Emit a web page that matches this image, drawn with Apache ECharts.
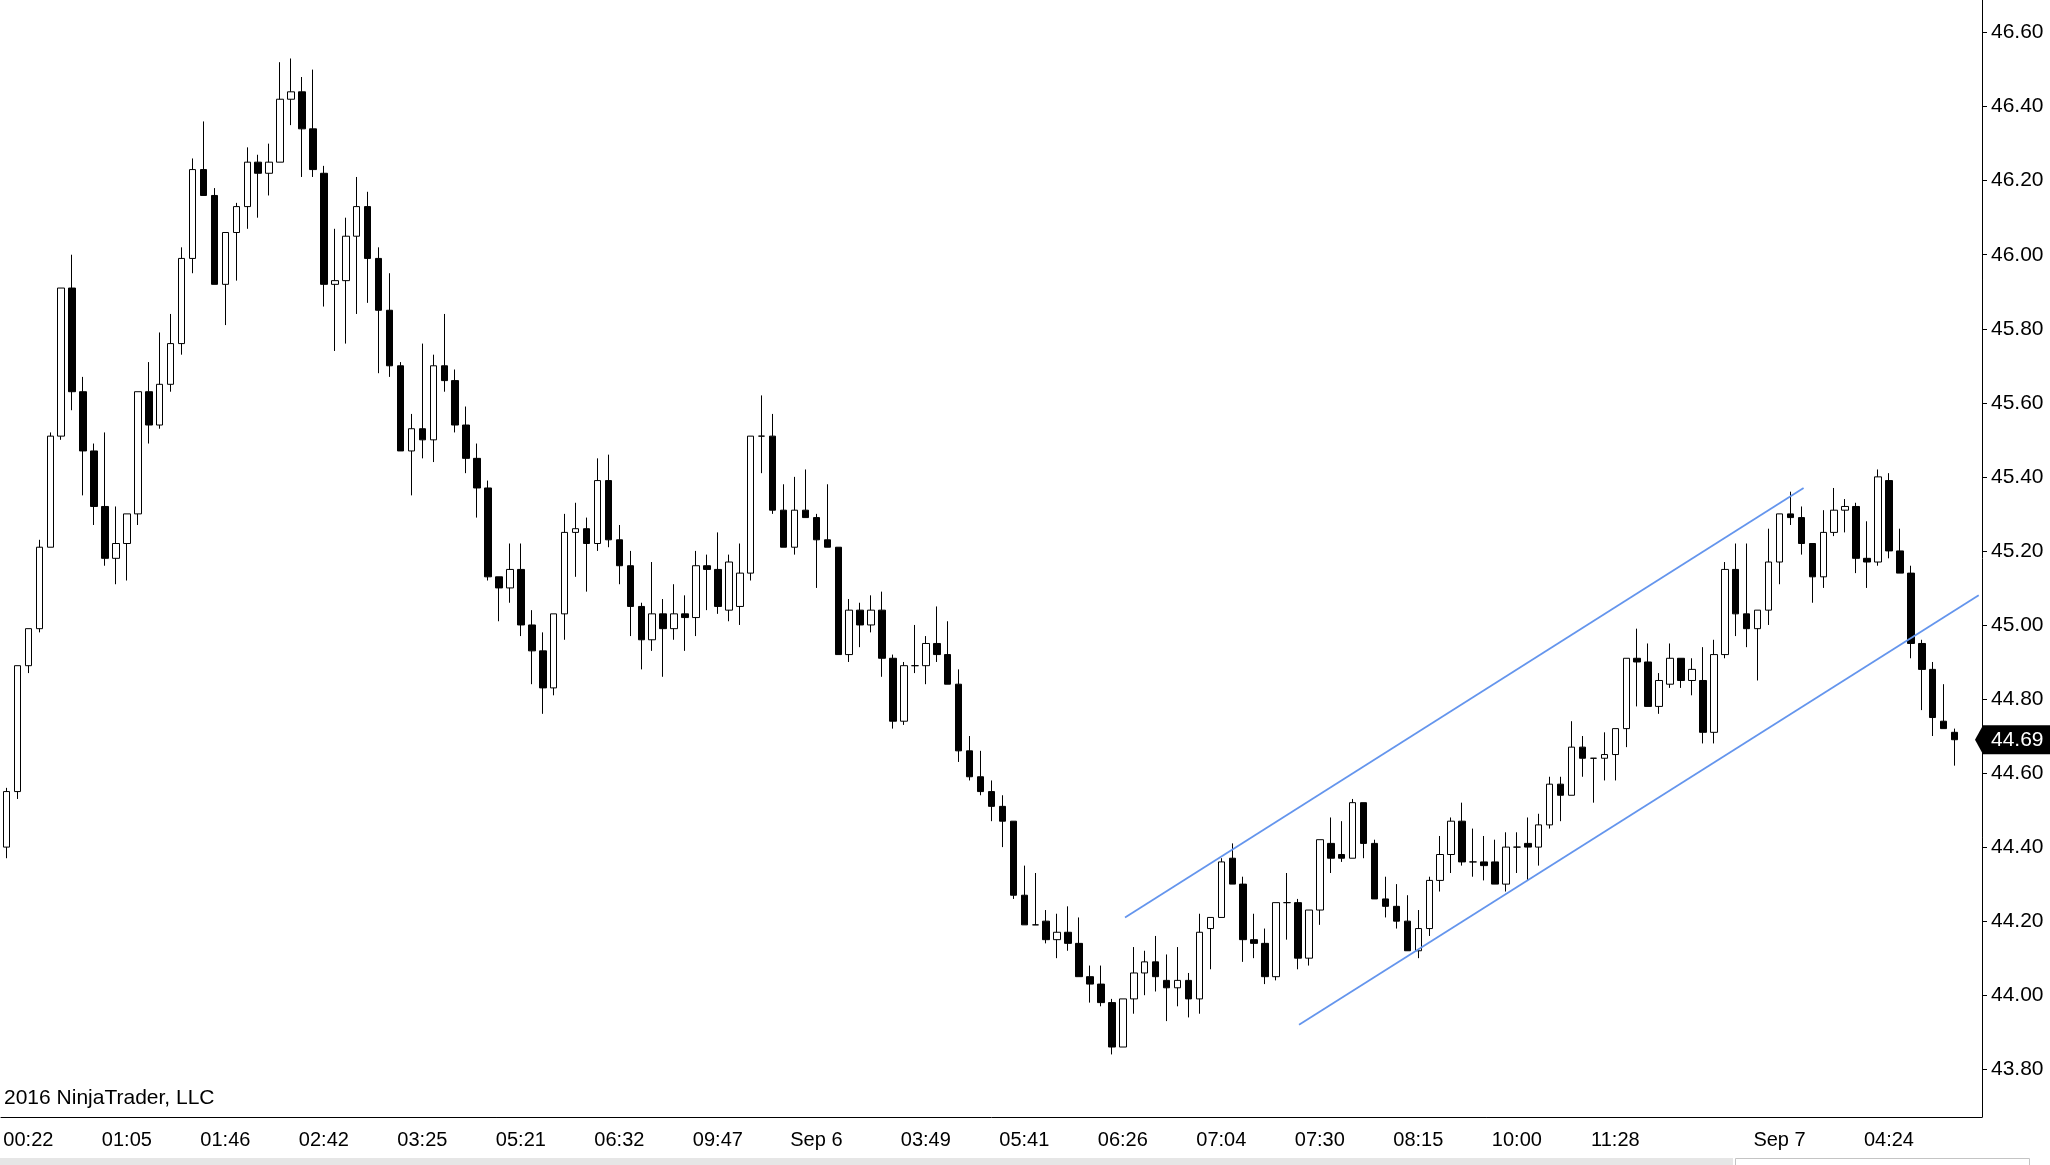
<!DOCTYPE html>
<html>
<head>
<meta charset="utf-8">
<title>NinjaTrader candles</title>
<script src="https://cdn.jsdelivr.net/npm/echarts@6/dist/echarts.min.js"></script>
<style>
    html, body { margin: 0; padding: 0; background: #fff; }
    #main { width: 2050px; height: 1165px; }
</style>
</head>
<body>
<div id="main"></div>
<script>
'use strict';

// bar values (oldest first)
var opens = [
    44.40, 44.55, 44.89, 44.99, 45.21, 45.51, 45.91, 45.63, 45.47, 45.32,
    45.18, 45.22, 45.30, 45.63, 45.54, 45.65, 45.76, 45.99, 46.23, 46.16,
    45.92, 46.06, 46.13, 46.25, 46.22, 46.25, 46.42, 46.44, 46.34, 46.22,
    45.92, 45.93, 46.05, 46.13, 45.99, 45.85, 45.70, 45.47, 45.53, 45.50,
    45.70, 45.66, 45.54, 45.45, 45.37, 45.13, 45.10, 45.15, 45.00, 44.93,
    44.83, 45.03, 45.25, 45.26, 45.22, 45.39, 45.23, 45.16, 45.05, 44.96,
    45.03, 44.99, 45.03, 45.02, 45.16, 45.15, 45.04, 45.05, 45.14, 45.51,
    45.51, 45.31, 45.21, 45.31, 45.29, 45.23, 45.21, 44.92, 45.04, 45.00,
    45.04, 44.91, 44.74, 44.89, 44.89, 44.95, 44.92, 44.84, 44.66, 44.59,
    44.55, 44.51, 44.47, 44.27, 44.19, 44.20, 44.15, 44.17, 44.14, 44.05,
    44.03, 43.98, 43.86, 43.99, 44.06, 44.09, 44.04, 44.02, 44.04, 43.99,
    44.18, 44.21, 44.37, 44.30, 44.15, 44.14, 44.05, 44.25, 44.25, 44.10,
    44.23, 44.41, 44.38, 44.37, 44.52, 44.41, 44.26, 44.24, 44.20, 44.12,
    44.18, 44.31, 44.38, 44.47, 44.36, 44.36, 44.36, 44.30, 44.40, 44.41,
    44.40, 44.46, 44.57, 44.54, 44.67, 44.64, 44.64, 44.65, 44.72, 44.91,
    44.90, 44.78, 44.84, 44.91, 44.85, 44.85, 44.71, 44.92, 45.15, 45.03,
    44.99, 45.04, 45.17, 45.30, 45.29, 45.22, 45.13, 45.25, 45.31, 45.32,
    45.18, 45.17, 45.39, 45.20, 45.14, 44.95, 44.88, 44.74, 44.71
];
var closes = [
    44.55, 44.89, 44.99, 45.21, 45.51, 45.91, 45.63, 45.47, 45.32, 45.18,
    45.22, 45.30, 45.63, 45.54, 45.65, 45.76, 45.99, 46.23, 46.16, 45.92,
    46.06, 46.13, 46.25, 46.22, 46.25, 46.42, 46.44, 46.34, 46.23, 45.92,
    45.93, 46.05, 46.13, 45.99, 45.85, 45.70, 45.47, 45.53, 45.50, 45.70,
    45.66, 45.54, 45.45, 45.37, 45.13, 45.10, 45.15, 45.00, 44.93, 44.83,
    45.03, 45.25, 45.26, 45.22, 45.39, 45.23, 45.16, 45.05, 44.96, 45.03,
    44.99, 45.03, 45.02, 45.16, 45.15, 45.05, 45.17, 45.14, 45.51, 45.51,
    45.31, 45.21, 45.31, 45.29, 45.23, 45.21, 44.92, 45.04, 45.00, 45.04,
    44.91, 44.74, 44.89, 44.89, 44.95, 44.92, 44.84, 44.66, 44.59, 44.55,
    44.51, 44.47, 44.27, 44.19, 44.19, 44.15, 44.17, 44.14, 44.05, 44.03,
    43.98, 43.86, 43.99, 44.06, 44.09, 44.05, 44.02, 44.04, 43.99, 44.17,
    44.21, 44.36, 44.30, 44.15, 44.14, 44.05, 44.25, 44.25, 44.10, 44.23,
    44.42, 44.37, 44.37, 44.52, 44.41, 44.26, 44.24, 44.20, 44.12, 44.18,
    44.31, 44.38, 44.47, 44.36, 44.36, 44.35, 44.30, 44.40, 44.40, 44.40,
    44.46, 44.57, 44.54, 44.67, 44.64, 44.64, 44.65, 44.72, 44.91, 44.90,
    44.78, 44.85, 44.91, 44.85, 44.88, 44.71, 44.92, 45.15, 45.03, 44.99,
    45.04, 45.17, 45.30, 45.29, 45.22, 45.13, 45.25, 45.31, 45.32, 45.18,
    45.17, 45.40, 45.20, 45.14, 44.95, 44.88, 44.75, 44.72, 44.69
];
var lows = [
    44.37, 44.53, 44.87, 44.98, 45.21, 45.50, 45.58, 45.35, 45.27, 45.16,
    45.11, 45.12, 45.27, 45.49, 45.53, 45.63, 45.73, 45.95, 46.16, 45.92,
    45.81, 45.93, 46.07, 46.10, 46.16, 46.25, 46.35, 46.21, 46.21, 45.86,
    45.74, 45.76, 45.84, 45.87, 45.68, 45.67, 45.47, 45.35, 45.45, 45.44,
    45.63, 45.52, 45.41, 45.29, 45.12, 45.01, 45.06, 44.97, 44.84, 44.76,
    44.81, 44.96, 45.13, 45.09, 45.20, 45.21, 45.11, 44.97, 44.88, 44.93,
    44.86, 44.96, 44.93, 44.97, 45.04, 45.03, 45.01, 45.00, 45.12, 45.41,
    45.30, 45.21, 45.19, 45.29, 45.10, 45.21, 44.92, 44.90, 44.94, 44.98,
    44.86, 44.72, 44.73, 44.87, 44.84, 44.90, 44.84, 44.63, 44.58, 44.54,
    44.47, 44.40, 44.26, 44.19, 44.19, 44.14, 44.10, 44.12, 44.05, 43.98,
    43.97, 43.84, 43.86, 43.95, 44.00, 44.01, 43.93, 43.97, 43.94, 43.95,
    44.07, 44.21, 44.30, 44.09, 44.10, 44.03, 44.04, 44.15, 44.07, 44.08,
    44.19, 44.33, 44.36, 44.37, 44.37, 44.26, 44.21, 44.18, 44.12, 44.10,
    44.16, 44.28, 44.33, 44.35, 44.32, 44.31, 44.30, 44.28, 44.33, 44.31,
    44.35, 44.45, 44.47, 44.54, 44.59, 44.52, 44.58, 44.58, 44.67, 44.78,
    44.78, 44.76, 44.83, 44.83, 44.81, 44.68, 44.68, 44.91, 44.97, 44.94,
    44.85, 45.00, 45.11, 45.27, 45.19, 45.06, 45.10, 45.24, 45.25, 45.14,
    45.10, 45.16, 45.18, 45.14, 44.91, 44.77, 44.70, 44.72, 44.62
];
var highs = [
    44.56, 44.89, 44.99, 45.23, 45.52, 45.91, 46.00, 45.67, 45.49, 45.52,
    45.32, 45.30, 45.63, 45.71, 45.79, 45.84, 46.02, 46.26, 46.36, 46.18,
    46.06, 46.14, 46.29, 46.27, 46.30, 46.52, 46.53, 46.48, 46.50, 46.24,
    46.07, 46.10, 46.21, 46.17, 46.02, 45.95, 45.71, 45.57, 45.76, 45.73,
    45.84, 45.69, 45.59, 45.49, 45.39, 45.13, 45.22, 45.22, 45.04, 44.98,
    45.03, 45.30, 45.33, 45.29, 45.45, 45.46, 45.27, 45.20, 45.06, 45.17,
    45.07, 45.11, 45.08, 45.20, 45.19, 45.25, 45.19, 45.22, 45.51, 45.62,
    45.57, 45.38, 45.40, 45.42, 45.30, 45.38, 45.21, 45.07, 45.06, 45.08,
    45.09, 44.92, 44.90, 45.00, 44.97, 45.05, 45.01, 44.88, 44.70, 44.66,
    44.58, 44.54, 44.47, 44.35, 44.33, 44.23, 44.22, 44.24, 44.21, 44.08,
    44.08, 43.99, 43.99, 44.13, 44.12, 44.16, 44.11, 44.13, 44.06, 44.22,
    44.21, 44.37, 44.41, 44.32, 44.22, 44.18, 44.25, 44.33, 44.26, 44.23,
    44.42, 44.48, 44.47, 44.53, 44.52, 44.42, 44.32, 44.30, 44.27, 44.23,
    44.32, 44.43, 44.48, 44.52, 44.45, 44.43, 44.42, 44.44, 44.44, 44.48,
    44.49, 44.59, 44.59, 44.74, 44.70, 44.64, 44.71, 44.72, 44.91, 44.99,
    44.95, 44.87, 44.95, 44.91, 44.91, 44.94, 44.96, 45.17, 45.22, 45.22,
    45.04, 45.26, 45.30, 45.36, 45.32, 45.22, 45.31, 45.37, 45.34, 45.33,
    45.28, 45.42, 45.41, 45.26, 45.16, 44.96, 44.90, 44.84, 44.72
];

// time axis: bar index of each tick and its text (one tick has no label)
var tickIndex = [2, 11, 20, 29, 38, 47, 56, 65, 74, 84, 93, 102, 111, 120, 129, 138, 147, 156, 162, 172];
var tickText = ['00:22', '01:05', '01:46', '02:42', '03:25', '05:21', '06:32', '09:47', 'Sep 6', '03:49',
    '05:41', '06:26', '07:04', '07:30', '08:15', '10:00', '11:28', '', 'Sep 7', '04:24'];

var priceTicks = [43.8, 44.0, 44.2, 44.4, 44.6, 44.8, 45.0, 45.2, 45.4, 45.6, 45.8, 46.0, 46.2, 46.4, 46.6];

// drawn channel lines: [bar index, price]
var channelUpper = [[102.2, 44.21], [164.2, 45.37]];
var channelLower = [[118.1, 43.92], [180.2, 45.08]];

var slots = opens.length + 2;
var FONT = '"Liberation Sans", Arial, sans-serif';

var categories = [];
for (var i = 0; i < slots; i++) {
    var k = tickIndex.indexOf(i);
    categories.push(k >= 0 ? tickText[k] : '');
}

var candles = opens.map(function(o, i) {
    return [o, closes[i], lows[i], highs[i]];
});

function isTick(index) {
    return tickIndex.indexOf(index) >= 0;
}

var myChart = echarts.init(document.getElementById('main'), null, { renderer: 'canvas' });

var option = {
    animation: false,
    backgroundColor: '#fff',
    grid: { left: 1, right: 68, top: 0, bottom: 48, containLabel: false },
    xAxis: [{
        type: 'category',
        data: categories,
        boundaryGap: true,
        axisLine: { onZero: false, lineStyle: { color: '#000', width: 1 } },
        axisTick: { alignWithLabel: true, length: 5, interval: function(index) { return isTick(index); }, lineStyle: { color: '#000' } },
        axisLabel: {
            interval: function(index) { return isTick(index); },
            color: '#000',
            fontFamily: FONT,
            fontSize: 20,
            margin: 13
        },
        splitLine: { show: false }
    }, {
        type: 'value',
        show: false,
        min: -0.5,
        max: slots - 0.5
    }],
    yAxis: {
        type: 'value',
        position: 'right',
        min: 43.671,
        max: 46.688,
        scale: true,
        splitLine: { show: false },
        axisLine: { show: true, onZero: false, lineStyle: { color: '#000', width: 1 } },
        axisTick: { show: true, length: 5, customValues: priceTicks, lineStyle: { color: '#000' } },
        axisLabel: {
            customValues: priceTicks,
            color: '#000',
            fontFamily: FONT,
            fontSize: 21,
            margin: 9,
            formatter: function(v) { return v.toFixed(2); }
        }
    },
    series: [{
        name: 'price',
        type: 'candlestick',
        data: candles,
        barWidth: 7,
        itemStyle: {
            color: '#fff',
            color0: '#000',
            borderColor: '#000',
            borderColor0: '#000',
            borderColorDoji: '#000',
            borderWidth: 1
        }
    }, {
        name: 'upper',
        type: 'line',
        xAxisIndex: 1,
        data: channelUpper,
        symbol: 'none',
        lineStyle: { color: '#6495ED', width: 1.8 }
    }, {
        name: 'lower',
        type: 'line',
        xAxisIndex: 1,
        data: channelLower,
        symbol: 'none',
        lineStyle: { color: '#6495ED', width: 1.8 }
    }]
};
myChart.setOption(option);

// last price tag on the price axis, plus footer bits
var lastClose = closes[closes.length - 1];
var tagY = myChart.convertToPixel({ yAxisIndex: 0 }, lastClose);
var axisX = myChart.convertToPixel({ xAxisIndex: 1 }, slots - 0.5);

myChart.setOption({
    graphic: [{
        type: 'text',
        x: 4,
        y: 1098,
        style: { text: '2016 NinjaTrader, LLC', fill: '#000', font: '21px ' + FONT, verticalAlign: 'middle' }
    }, {
        type: 'rect',
        shape: { x: 0, y: 1158, width: 1733, height: 8 },
        style: { fill: '#e6e6e6' }
    }, {
        type: 'rect',
        shape: { x: 1735.5, y: 1158.5, width: 294, height: 10 },
        style: { fill: '#fff', stroke: '#c4c4c4', lineWidth: 1 }
    }, {
        type: 'polygon',
        shape: { points: [[axisX - 7, tagY], [axisX + 1, tagY - 14.5], [2050, tagY - 14.5], [2050, tagY + 14.5], [axisX + 1, tagY + 14.5]] },
        style: { fill: '#000' }
    }, {
        type: 'text',
        x: axisX + 9,
        y: tagY,
        style: { text: lastClose.toFixed(2), fill: '#fff', font: '21px ' + FONT, verticalAlign: 'middle' }
    }]
});
</script>
</body>
</html>
